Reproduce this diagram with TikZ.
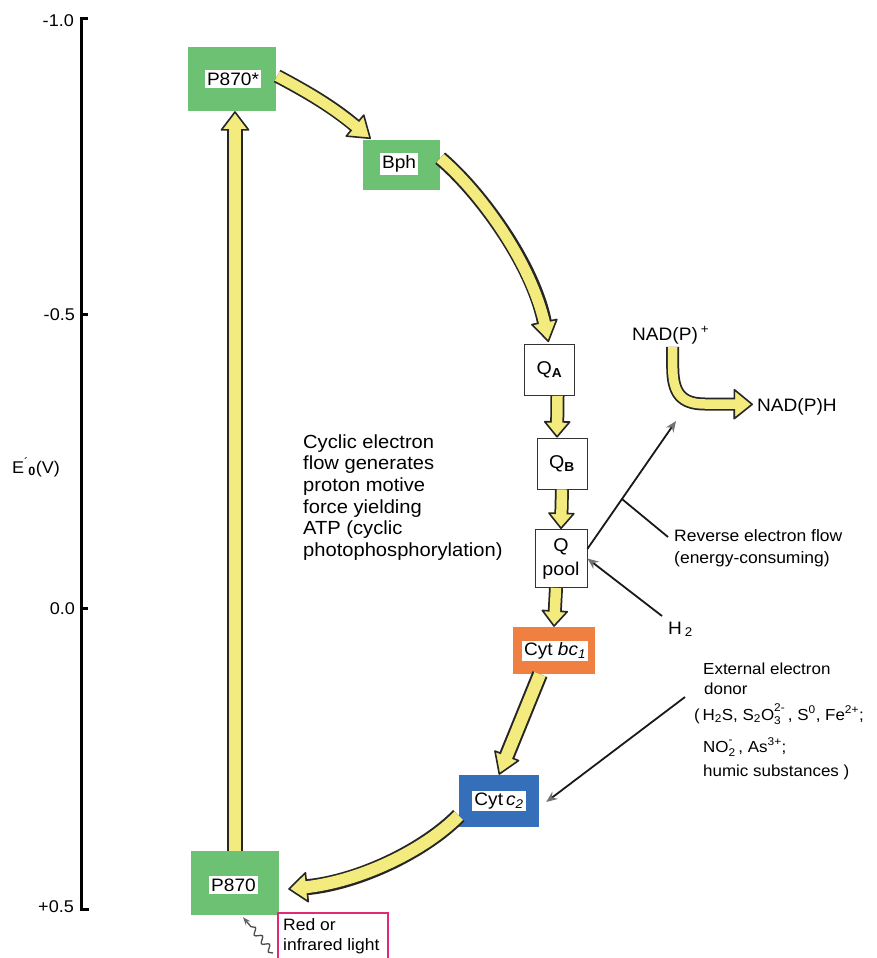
\documentclass[tikz,border=0pt]{standalone}
\usepackage{fontspec}
\setmainfont{Liberation Sans}[FakeStretch=1.06]
\usetikzlibrary{arrows.meta,calc,decorations.pathmorphing}
\definecolor{yel}{RGB}{243,235,125}
\definecolor{grn}{RGB}{108,193,115}
\definecolor{org}{RGB}{239,128,66}
\definecolor{blu}{RGB}{54,111,185}
\definecolor{pnk}{RGB}{228,40,120}
\newcommand\fs[2]{\fontsize{#1}{#2}\selectfont}
\newcommand\yarr[6]{%
  \draw[ybk={#1}{#3}{#4}] #6;
  \draw[yfl={#2}{#5}] #6;}
\newcommand\ssb[2]{\mbox{\rlap{\raisebox{-2pt}{\textsubscript{#2}}}\raisebox{2pt}{\textsuperscript{#1}}}}
\tikzset{
  ybk/.style n args={3}{line width=#1, draw=black!85, line cap=butt,
     -{Triangle[width=#2,length=#3,fill=yel,line width=1.6pt,round]}},
  yfl/.style 2 args={line width=#1, draw=yel, line cap=butt, shorten >=#2},
  cbox/.style={draw=none, inner sep=0pt},
  wlbl/.style={fill=white, inner xsep=2pt, inner ysep=3pt, font=\fs{18}{20}},
  qbox/.style={draw=black!80, line width=0.8pt, fill=white, inner sep=0pt, font=\fs{18.5}{24}, align=center},
  txt/.style={inner sep=0pt, font=\fs{16}{20}, align=left},
  thinarr/.style={line width=1.8pt, draw=black!90, -{Stealth[length=11pt,width=9pt,color=black!55]}},
  thinline/.style={line width=1.8pt, draw=black!90},
  axis/.style={line width=3pt, line cap=butt}
}
\begin{document}
\begin{tikzpicture}[x=1pt,y=-1pt]
\useasboundingbox[fill=white] (0,0) rectangle (877,958);

% axis
\draw[axis] (88,19) -- (81,19) -- (81,909) -- (89,909);
\draw[axis] (81,314) -- (88,314);
\draw[axis] (81,608) -- (88,608);
\node[txt, anchor=base east, font=\fs{17}{20}] (t1) at (74,27) {-1.0};
\node[txt, anchor=base east, font=\fs{17}{20}] (t2) at (75,320) {-0.5};
\node[txt, anchor=base east, font=\fs{17}{20}] (t3) at (75,614) {0.0};
\node[txt, anchor=base east, font=\fs{17}{20}] (t4) at (74,912) {+0.5};
\node[txt, anchor=base west, font=\fs{17}{20}] (eaxis) at (12,473) {E\textsuperscript{´}\kern-0.5pt\textsubscript{\textbf{0}}(V)};

% boxes
\node[cbox, fill=grn, minimum width=88pt, minimum height=64pt] (p870s) at (232,79) {};
\node[wlbl] (p870sl) at (233,79) {P870*};
\node[cbox, fill=grn, minimum width=77pt, minimum height=50pt] (bph) at (401.5,165) {};
\node[wlbl] (bphl) at (399,164) {Bph};
\node[qbox, minimum width=50pt, minimum height=51pt] (qa) at (549.5,370) {Q\textsubscript{\textbf{A}}};
\node[qbox, minimum width=50pt, minimum height=51pt] (qb) at (562,463.5) {Q\textsubscript{\textbf{B}}};
\node[qbox, minimum width=52pt, minimum height=58pt] (qpool) at (561,558.5) {Q\\pool};
\node[cbox, fill=org, minimum width=82pt, minimum height=47pt] (bc1) at (554,650.5) {};
\node[wlbl, inner ysep=2pt] (bc1l) at (555,651) {Cyt \textit{bc}\textsubscript{\textit{1}}};
\node[cbox, fill=blu, minimum width=80pt, minimum height=52pt] (c2) at (499,801) {};
\node[wlbl, inner ysep=2pt] (c2l) at (499,801) {Cyt\,\textit{c}\textsubscript{\textit{2}}};
\node[cbox, fill=grn, minimum width=88pt, minimum height=64pt] (p870) at (235,883) {};
\node[wlbl] (p870l) at (233.5,885) {P870};

% texts (base anchor = baseline of the last line)
\node[txt, anchor=base west, font=\fs{19}{21.7}] (cyc) at (303,556.5) {Cyclic electron\\flow generates\\proton motive\\force yielding\\ATP (cyclic\\photophosphorylation)};
\node[txt, anchor=base west, font=\fs{16.5}{22}] (rev) at (674,563) {Reverse electron flow\\(energy-consuming)};
\node[txt, anchor=base west, font=\fs{18}{20}] (nadp) at (632,340) {NAD(P)\,\textsuperscript{+}};
\node[txt, anchor=base west, font=\fs{18}{20}] (nadph) at (757,411) {NAD(P)H};
\node[txt, anchor=base west, font=\fs{18}{20}] (h2) at (668,634) {H\,\textsubscript{2}};
\node[txt, anchor=base west] (ed1) at (703,674) {External electron};
\node[txt, anchor=base west] (ed2) at (704,694) {donor};
\node[txt, anchor=base west] (ed3) at (694,720) {(\,H\textsubscript{2}S, S\textsubscript{2}O\ssb{2-}{3}\,, S\textsuperscript{0}, Fe\textsuperscript{2+};};
\node[txt, anchor=base west] (ed4) at (703,752) {NO\ssb{-}{2}\,\,, As\textsuperscript{3+};};
\node[txt, anchor=base west] (ed5) at (703,776) {humic substances )};
\node[txt, anchor=base west, font=\fs{16.5}{20}] (light) at (283,950) {Red or\\infrared light};
\draw[pnk, line width=1.3pt] (278,958) |- (388,913) -- (388,958);

% yellow arrows
\yarr{16pt}{12.5pt}{30pt}{20pt}{14pt}{(p870.north) -- (p870.north |- p870s.south)}
\yarr{14pt}{10.5pt}{30pt}{22pt}{15pt}{($(p870s.east)+(1,-3)$) to[bend left=6] ($(bph.north west)+(8,-1)$)}
\yarr{15pt}{11pt}{28pt}{22pt}{15pt}{(bph.10) .. controls (478,190) and (532,262) .. ($(qa.north)+(-1,-2)$)}
\yarr{14pt}{10.5pt}{28pt}{17pt}{12pt}{([xshift=8pt]qa.south) -- ([xshift=-5pt]qb.north)}
\yarr{14pt}{10.5pt}{28pt}{17pt}{12pt}{(qb.south) -- (qpool.north)}
\yarr{14pt}{10.5pt}{28pt}{17pt}{12pt}{([xshift=-5pt]qpool.south) -- (bc1.north)}
\yarr{16pt}{12pt}{28pt}{22pt}{15pt}{([xshift=-14pt]bc1.south) -- (c2.north)}
\yarr{16pt}{12pt}{32pt}{20pt}{14pt}{(c2.200) .. controls (425,850) and (360,882) .. ($(p870.east)+(9,6)$)}
\yarr{13pt}{9.5pt}{32pt}{20pt}{14pt}{($(nadp.south)+(2,3)$) -- ++(0,20) .. controls +(0,26) and +(-24,0) .. (705,404) -- ($(nadph.west)+(-4,-2)$)}

% thin arrows
\coordinate (revend) at (676,421);
\draw[thinarr] (qpool.20) -- (revend);
\coordinate (revbr) at ($(qpool.20)!0.39!(revend)$);
\draw[thinline] (revbr) -- (668,537);
\coordinate (h2s) at (662,616);
\draw[thinarr] (h2s) -- (qpool.east);
\coordinate (eds) at (685,697);
\draw[thinarr] (eds) -- ($(c2.east)+(7,1)$);
\coordinate (lite) at (273,953);
\draw[line width=1.3pt, draw=black!70, decorate, decoration={snake, amplitude=3pt, segment length=11pt, post length=7pt}, -{Stealth[length=8pt,width=6pt,color=black!60]}] (lite) -- ($(p870.south)+(8,2)$);
\end{tikzpicture}
\end{document}
